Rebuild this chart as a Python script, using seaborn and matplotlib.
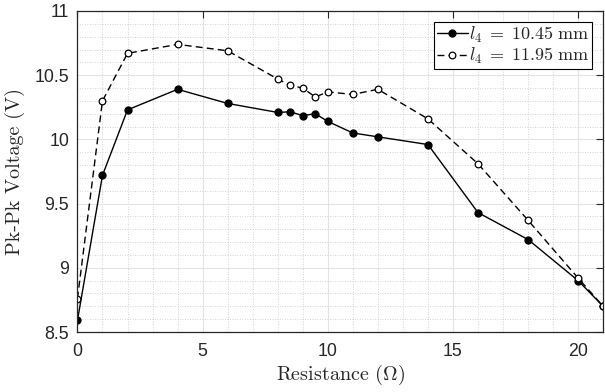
import numpy as np
import pandas as pd
import matplotlib
matplotlib.use("Agg")
import matplotlib.pyplot as plt
import seaborn as sns
from matplotlib.ticker import MultipleLocator

resistance = [0, 1, 2, 4, 6, 8, 8.5, 9, 9.5, 10, 11, 12, 14, 16, 18, 20, 21]
v_1045 = [8.59, 9.72, 10.23, 10.39, 10.28, 10.21, 10.215, 10.185, 10.20, 10.14,
          10.05, 10.02, 9.96, 9.43, 9.22, 8.90, 8.70]
v_1195 = [8.76, 10.30, 10.67, 10.74, 10.69, 10.47, 10.42, 10.40, 10.33, 10.37,
          10.35, 10.39, 10.16, 9.81, 9.37, 8.92, 8.70]
labels = [r'$l_4 \;=\; 10.45\ \mathrm{mm}$', r'$l_4 \;=\; 11.95\ \mathrm{mm}$']
xticks = [0, 5, 10, 15, 20]
yticks = [8.5, 9, 9.5, 10, 10.5, 11]

sns.set_style("white")
plt.rcParams['font.family'] = ['Liberation Sans', 'DejaVu Sans']
plt.rcParams['mathtext.fontset'] = 'cm'

df = pd.DataFrame({
    'R': resistance * 2,
    'V': v_1045 + v_1195,
    'series': [labels[0]] * len(resistance) + [labels[1]] * len(resistance),
})

fig = plt.figure(figsize=(6.05, 3.92), dpi=100)
ax = fig.add_axes([0.128, 0.153, 0.869, 0.819])

sns.lineplot(data=df, x='R', y='V', hue='series', style='series',
             palette=['black', 'black'], dashes=[(None, None), (5, 3)],
             markers=['o', 'o'], ax=ax, linewidth=1.0, legend=False,
             sort=False)
lines = ax.get_lines()
lines[0].set_markersize(5.2)
lines[0].set_markerfacecolor('black')
lines[0].set_markeredgecolor('black')
lines[0].set_linestyle('-')
lines[1].set_markersize(4.8)
lines[1].set_markerfacecolor('white')
lines[1].set_markeredgecolor('black')
lines[1].set_markeredgewidth(0.9)
lines[1].set_dashes((5, 3))

ax.set_xlim(0, 21)
ax.set_ylim(8.5, 11)
ax.set_xticks(xticks)
ax.set_yticks(yticks)
ax.set_yticklabels(['8.5', '9', '9.5', '10', '10.5', '11'])
ax.xaxis.set_minor_locator(MultipleLocator(1))
ax.yaxis.set_minor_locator(MultipleLocator(0.1))
ax.grid(True, which='major', color='#e3e3e3', linewidth=0.8, linestyle='-')
ax.grid(True, which='minor', color='#c4c4c4', linewidth=0.6, linestyle=(0, (1, 2)))
ax.set_axisbelow(True)
ax.tick_params(which='major', direction='in', length=5, top=True, right=True,
               labelsize=12.8, width=0.8, labelcolor='#262626')
ax.tick_params(axis='x', which='major', pad=8)
ax.tick_params(axis='y', which='major', pad=6)
ax.tick_params(which='minor', length=0)
for s in ax.spines.values():
    s.set_color('#262626')
    s.set_linewidth(0.9)

ax.set_xlabel(r'Resistance ($\Omega$)', fontfamily='cmr10', fontsize=14.5, labelpad=2)
ax.set_ylabel('Pk-Pk Voltage (V)', fontfamily='cmr10', fontsize=14.5, labelpad=7)

leg = ax.legend(lines, labels, loc='upper right', fontsize=13, handlelength=1.7,
                handletextpad=0.1, borderpad=0.15, labelspacing=0.1,
                fancybox=False, edgecolor='black', framealpha=1,
                borderaxespad=0.6)
leg.get_frame().set_linewidth(0.8)

fig.savefig('out.png', dpi=100)
